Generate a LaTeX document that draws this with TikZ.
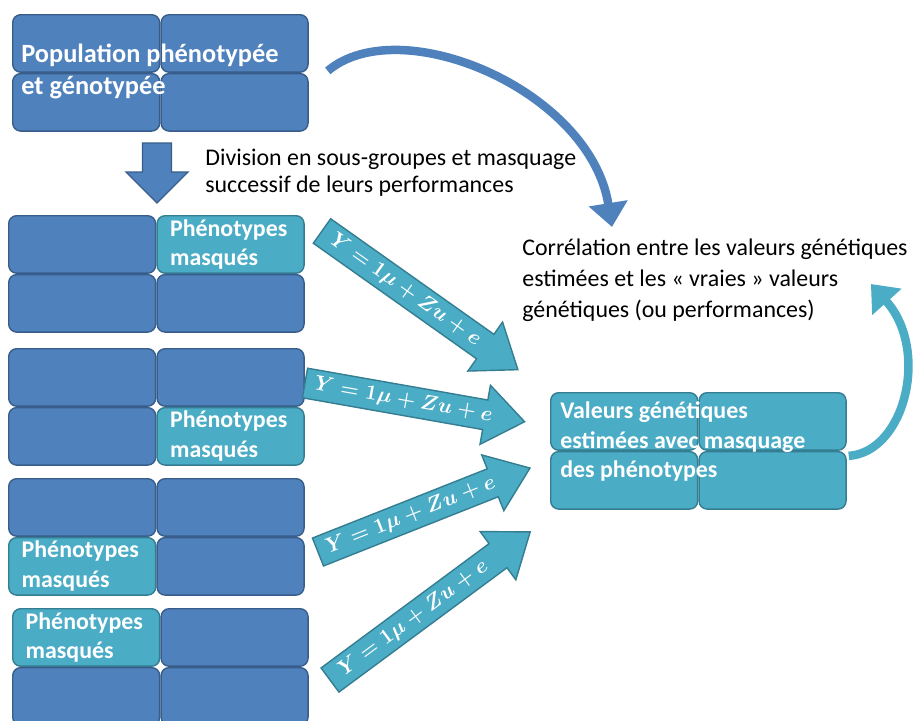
\documentclass[tikz,border=0pt]{standalone}
\usepackage{fontspec}
\setmainfont{Carlito}
\usepackage{amsmath}
\usepackage{tikz}
\usetikzlibrary{arrows.meta, positioning}

\definecolor{cellblue}{HTML}{4F81BD}
\definecolor{cellblueline}{HTML}{385D8A}
\definecolor{cellteal}{HTML}{4BACC6}
\definecolor{celltealline}{HTML}{357D91}

\begin{document}
\begin{tikzpicture}[
            x=0.02cm, y=-0.02cm,
            node distance=0pt,
            bluecell/.style={rectangle, rounded corners=0.16cm, draw=cellblueline, line width=0.8pt, fill=cellblue, minimum width=2.94cm, minimum height=1.15cm, inner sep=0pt},
            tealcell/.style={bluecell, draw=celltealline, fill=cellteal, text=white, align=left, text width=2.42cm, inner xsep=0.26cm, inner ysep=0pt, font=\fontsize{13.6}{17}\selectfont\bfseries},
            whitetext/.style={text=white, align=left, inner sep=0pt, font=\fontsize{13.6}{17}\selectfont\bfseries},
            plaintext/.style={text=black, align=left, inner sep=0pt, font=\fontsize{13.6}{17.5}\selectfont},
            eqshape/.style={draw=celltealline, line width=0.8pt, fill=cellteal, line join=miter},
            eqtext/.style={text=white, inner sep=0pt, transform shape, font=\fontsize{13}{14}\selectfont\boldmath},
            downshape/.style={draw=cellblueline, line width=0.8pt, fill=cellblue, line join=miter},
            bendarrow/.style={line width=0.17cm, -{Triangle[length=0.48cm, width=0.76cm]}},
            ]
            \useasboundingbox (0,0) rectangle (919,720);

            % population de depart
            \node[bluecell, anchor=north west] (p1) at (12,14) {};
            \node[bluecell] (p2) [right=of p1] {};
            \node[bluecell] (p3) [below=of p1] {};
            \node[bluecell] (p4) [right=of p3] {};
            \node[whitetext, anchor=north west, font=\fontsize{15}{18.2}\selectfont\bfseries] (pop) at (21,44) {Population phénotypée\\et génotypée};

            \begin{scope}[shift={(157,143)}, rotate=-90]
              \draw[downshape] (0,-14.5) -- (29,-14.5) -- (29,-31) -- (60,0) -- (29,31) -- (29,14.5) -- (0,14.5) -- cycle;
            \end{scope}
            \node[plaintext, anchor=north west, font=\fontsize{13.6}{15.4}\selectfont] (divtxt) at (205,149) {Division en sous-groupes et masquage\\successif de leurs performances};

            % sous-groupes
            \node[bluecell, anchor=north west] (a1) at (8,215) {};
            \node[tealcell] (a2) [right=of a1] {Phénotypes\\masqués};
            \node[bluecell] (a3) [below=of a1] {};
            \node[bluecell] (a4) [right=of a3] {};

            \node[bluecell, anchor=north west] (b1) at (8,348) {};
            \node[bluecell] (b2) [right=of b1] {};
            \node[bluecell] (b3) [below=of b1] {};
            \node[tealcell] (b4) [right=of b3] {Phénotypes\\masqués};

            \node[bluecell, anchor=north west] (c1) at (8,478) {};
            \node[bluecell] (c2) [right=of c1] {};
            \node[tealcell] (c3) [below=of c1] {Phénotypes\\masqués};
            \node[bluecell] (c4) [right=of c3] {};

            \node[tealcell, anchor=north west] (d1) at (12,608) {Phénotypes\\masqués};
            \node[bluecell] (d2) [right=of d1] {};
            \node[bluecell] (d3) [below=of d1] {};
            \node[bluecell] (d4) [right=of d3] {};

            % valeurs genetiques estimees
            \node[tealcell, anchor=north west] (r1) at (550,392) {};
            \node[tealcell] (r2) [right=of r1] {};
            \node[tealcell] (r3) [below=of r1] {};
            \node[tealcell] (r4) [right=of r3] {};
            \node[whitetext, anchor=north west] (res) at (560,401) {Valeurs génétiques\\estimées avec masquage\\des phénotypes};

            \node[plaintext, anchor=north west] (corr) at (522,239) {Corrélation entre les valeurs génétiques\\estimées et les « vraies » valeurs\\génétiques (ou performances)};

            % modeles
            \begin{scope}[shift={(322,231)}, rotate=-35.3]
              \draw[eqshape] (0,-15) -- (200,-15) -- (200,-30) -- (240,0) -- (200,30) -- (200,15) -- (0,15) -- cycle;
              \node[eqtext] (m1) at (102,0) {$Y=1\mu+Zu+e$};
            \end{scope}
            \begin{scope}[shift={(305,383)}, rotate=-10]
              \draw[eqshape] (0,-15) -- (183,-15) -- (183,-30) -- (223,0) -- (183,30) -- (183,15) -- (0,15) -- cycle;
              \node[eqtext] (m2) at (100,0) {$Y=1\mu+Zu+e$};
            \end{scope}
            \begin{scope}[shift={(318,552)}, rotate=21.6]
              \draw[eqshape] (0,-15) -- (188,-15) -- (188,-30) -- (228,0) -- (188,30) -- (188,15) -- (0,15) -- cycle;
              \node[eqtext] (m3) at (100,0) {$Y=1\mu+Zu+e$};
            \end{scope}
            \begin{scope}[shift={(330,680)}, rotate=36.5]
              \draw[eqshape] (0,-15) -- (209,-15) -- (209,-30) -- (249,0) -- (209,30) -- (209,15) -- (0,15) -- cycle;
              \node[eqtext] (m4) at (104,0) {$Y=1\mu+Zu+e$};
            \end{scope}

            \draw[bendarrow, cellblue] ([xshift=0.38cm, yshift=0.04cm]p4.north east) .. controls (400,10) and (590,90) .. ([xshift=1.8cm, yshift=0.24cm]corr.north west);
            \draw[bendarrow, cellteal] ([xshift=0.04cm, yshift=-0.1cm]r2.south east) .. controls (905,452) and (930,350) .. ([xshift=-0.74cm, yshift=-0.9cm]corr.north east);
        \end{tikzpicture}
\end{document}
